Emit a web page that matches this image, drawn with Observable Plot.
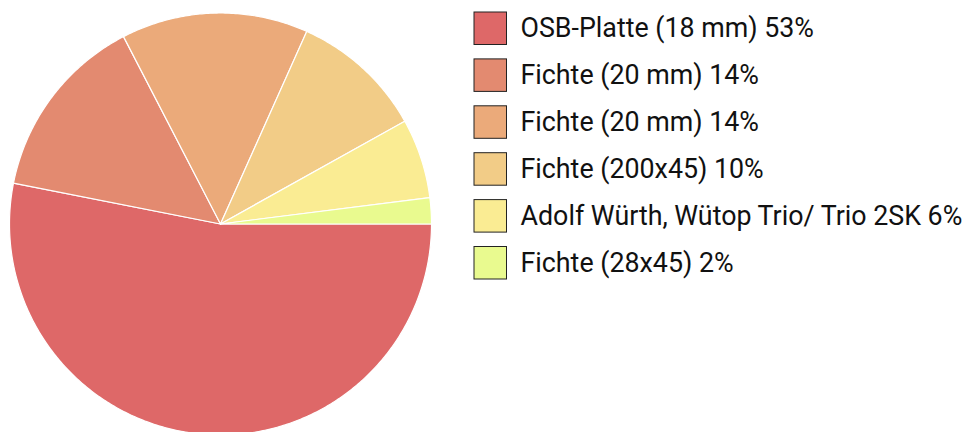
<!DOCTYPE html>
<html>
<head>
<meta charset="utf-8">
<script src="https://cdn.jsdelivr.net/npm/d3@7"></script>
<script src="https://cdn.jsdelivr.net/npm/@observablehq/plot@0.6"></script>
<style>
  html, body { margin: 0; padding: 0; background: #fff; }
  svg { display: block; }
</style>
</head>
<body>
<div id="chart"></div>
<script>
// Data
const names = ["OSB-Platte (18 mm)", "Fichte (20 mm)", "Fichte (20 mm)", "Fichte (200x45)", "Adolf Würth, Wütop Trio/ Trio 2SK", "Fichte (28x45)"];
const values = [53.1, 14.3, 14.3, 10.2, 6.1, 2.0];
const pctLabels = ["53%", "14%", "14%", "10%", "6%", "2%"];
const colors = ["#DE6868", "#E38A70", "#EBAA7A", "#F2CC87", "#FAEC93", "#E9FA8F"];

// Layout
const W = 968, H = 432;
const cx = 220, cy = 223.5, R = 211;
const legX = 474, legY = 12, legSize = 32.5, legStep = 46.9, legTextX = 520;

const items = names.map((n, i) => ({id: i, name: n, value: values[i], label: `${n} ${pctLabels[i]}`, color: colors[i]}));

const arcs = d3.pie().sort(null).value(d => d.value).startAngle(Math.PI / 2).endAngle(Math.PI / 2 + 2 * Math.PI)(items);

const pts = [];
for (const a of arcs) {
  const id = a.data.id, color = a.data.color;
  pts.push({id, color, x: cx, y: cy});
  const n = Math.max(2, Math.ceil((a.endAngle - a.startAngle) / 0.01));
  for (let k = 0; k <= n; k++) {
    const t = a.startAngle + (a.endAngle - a.startAngle) * k / n;
    pts.push({id, color, x: cx + R * Math.sin(t), y: cy - R * Math.cos(t)});
  }
}

const plot = Plot.plot({
  width: W,
  height: H,
  margin: 0,
  x: {domain: [0, W], range: [0, W], axis: null},
  y: {domain: [0, H], range: [0, H], axis: null},
  style: {fontFamily: "Roboto, sans-serif", background: "#fff"},
  marks: [
    Plot.line(pts, {x: "x", y: "y", z: "id", fill: "color", stroke: "#fff", strokeWidth: 1.2, curve: "linear-closed"}),
    Plot.rect(items, {
      x1: () => legX, x2: () => legX + legSize,
      y1: d => legY + d.id * legStep, y2: d => legY + d.id * legStep + legSize,
      fill: "color", stroke: "#222", strokeWidth: 1
    }),
    Plot.text(items, {
      x: () => legTextX, y: d => legY + d.id * legStep + legSize / 2,
      text: "label", textAnchor: "start", lineAnchor: "middle",
      fontSize: 26.8, fill: "#111"
    })
  ]
});
document.getElementById("chart").appendChild(plot);
</script>
</body>
</html>
